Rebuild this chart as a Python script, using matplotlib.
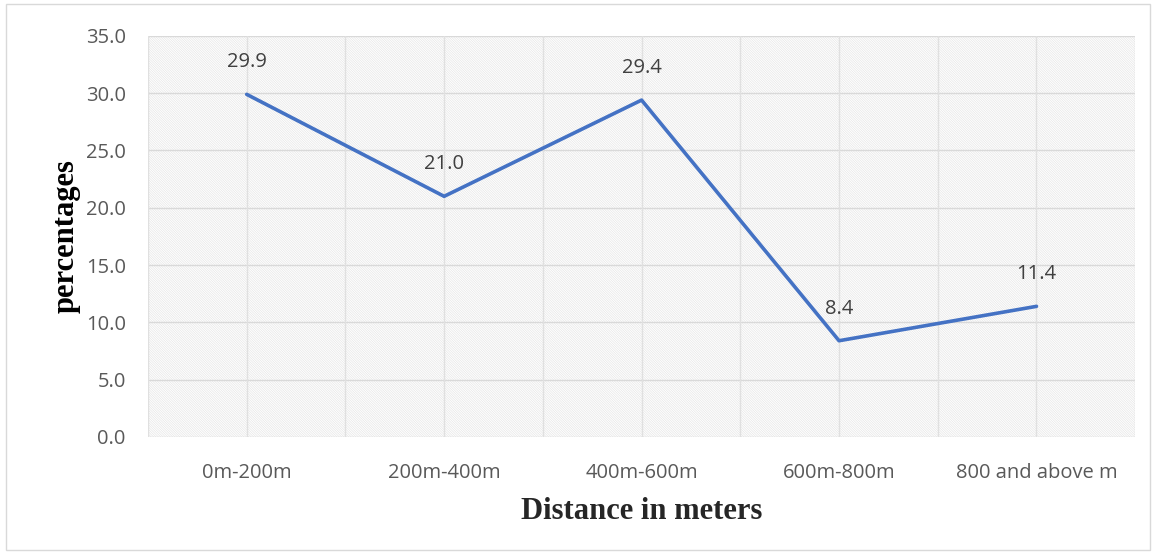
import matplotlib.pyplot as plt
from matplotlib.patches import Rectangle

# Data: distance to facility vs percentage of respondents
categories = ["0m-200m", "200m-400m", "400m-600m", "600m-800m", "800 and above m"]
percentages = [29.9, 21.0, 29.4, 8.4, 11.4]
yticks = [0, 5, 10, 15, 20, 25, 30, 35]

fig = plt.figure(figsize=(11.56, 5.54), dpi=100)
ax = fig.add_axes([0.128, 0.2112, 0.854, 0.724])

# outer chart border
fig.patches.append(Rectangle((0.005, 0.008), 0.99, 0.984, transform=fig.transFigure,
                             fill=False, edgecolor="#d9d9d9", linewidth=1))

# fine hatched plot area background
plt.rcParams['hatch.linewidth'] = 0.5
ax.set_facecolor("white")
ax.add_patch(Rectangle((0, 0), 1, 1, transform=ax.transAxes, facecolor="white",
                       edgecolor="#e6e6e6", hatch="\\" * 14, linewidth=0, zorder=0))

x = list(range(len(categories)))
ax.set_xlim(-0.5, len(categories) - 0.5)
ax.set_ylim(0, 35)

# grid lines: horizontal at each tick, vertical at centers and boundaries
for v in yticks:
    ax.axhline(v, color="#d9d9d9", linewidth=1, zorder=1)
for i in range(len(categories) * 2 + 1):
    ax.axvline(-0.5 + i * 0.5, color="#e0e0e0", linewidth=1, zorder=1)

ax.plot(x, percentages, color="#4472C4", linewidth=2.6, zorder=3, solid_capstyle="round")

for xi, v in zip(x, percentages):
    ax.annotate(f"{v:.1f}", (xi, v), xytext=(0, 16), textcoords="offset points",
                ha="center", va="bottom", fontsize=14.5, color="#404040", family="Open Sans")

for s in ax.spines.values():
    s.set_visible(False)

ax.set_xticks(x)
ax.set_xticklabels(categories, fontsize=14.5, color="#595959", family="Open Sans")
ax.set_yticks(yticks)
ax.set_yticklabels([f"{v:.1f}" for v in yticks], fontsize=14.5, color="#595959", family="Open Sans")
ax.tick_params(length=0, axis="x", pad=19)
ax.tick_params(length=0, axis="y", pad=16)

ax.set_xlabel("Distance in meters", fontsize=22, fontweight="bold", family="Liberation Serif",
              color="#262626", labelpad=10)
ax.set_ylabel("percentages", fontsize=22, fontweight="bold", family="Liberation Serif",
              color="#000000", labelpad=4)

fig.savefig("out.png", dpi=100)
